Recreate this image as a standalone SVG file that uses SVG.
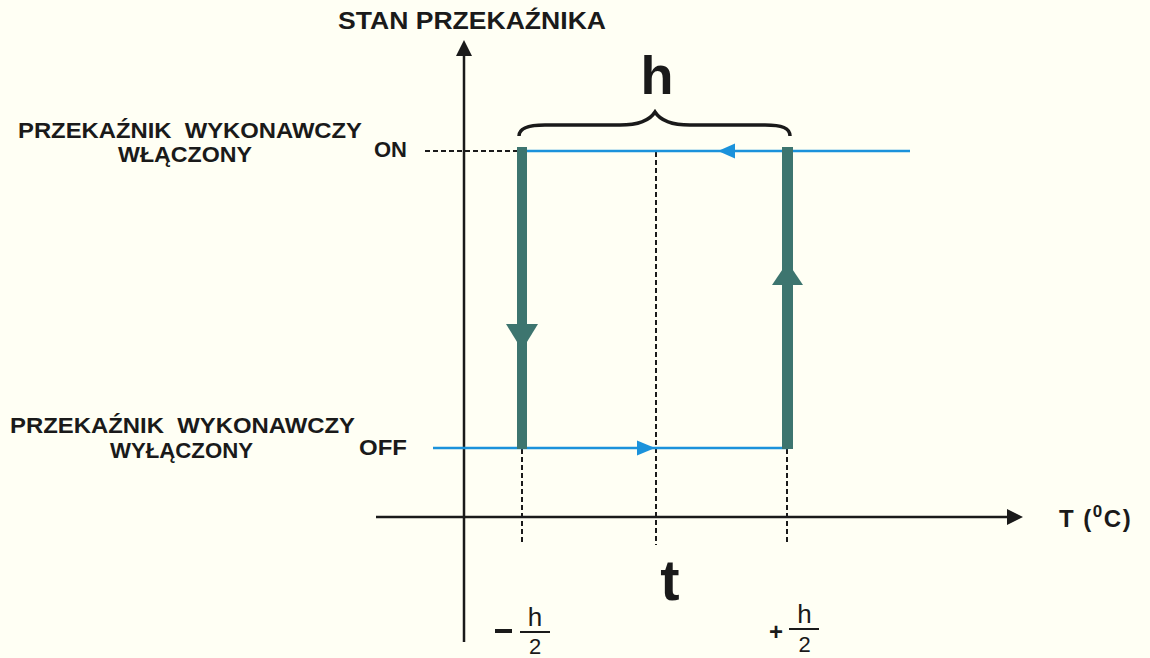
<svg xmlns="http://www.w3.org/2000/svg" width="1150" height="658" viewBox="0 0 1150 658">
<style>
.lbl{font-family:"Liberation Sans",Arial,sans-serif;font-weight:bold;fill:#1a1a1a}
.math{font-family:"Liberation Sans",Arial,sans-serif;fill:#1a1a1a}
.axis{stroke:#1a1a1a;stroke-width:2.5;fill:none}
.dash{stroke:#1a1a1a;stroke-width:2;stroke-dasharray:5 3;fill:none}
.blue{stroke:#1b92db;stroke-width:2.5;fill:none}
.bluehead{fill:#1b92db}
.teal{fill:#3d756f}
</style>
<rect width="1150" height="658" fill="#fffff4"/>
<g id="axes">
<line class="axis" x1="464" y1="642" x2="464" y2="55"/>
<polygon points="456,56 472,56 464,40" fill="#1a1a1a"/>
<line class="axis" x1="376" y1="517" x2="1008" y2="517"/>
<polygon points="1007,509 1023,517 1007,525" fill="#1a1a1a"/>
<text class="lbl" x="338" y="29" font-size="23" textLength="268" lengthAdjust="spacingAndGlyphs">STAN PRZEKAŹNIKA</text>
<text class="lbl" x="1059" y="527" font-size="24" letter-spacing="1.5">T (<tspan font-size="17" dy="-10">0</tspan><tspan dy="10">C)</tspan></text>
</g>
<g id="labels">
<text class="lbl" x="18" y="138" font-size="22" textLength="344" lengthAdjust="spacingAndGlyphs">PRZEKAŹNIK&#160; WYKONAWCZY</text>
<text class="lbl" x="118" y="162" font-size="22" textLength="134" lengthAdjust="spacingAndGlyphs">WŁĄCZONY</text>
<text class="lbl" x="374" y="157" font-size="22">ON</text>
<text class="lbl" x="10" y="433" font-size="22" textLength="345" lengthAdjust="spacingAndGlyphs">PRZEKAŹNIK&#160; WYKONAWCZY</text>
<text class="lbl" x="110" y="458" font-size="22" textLength="143" lengthAdjust="spacingAndGlyphs">WYŁĄCZONY</text>
<text class="lbl" x="359" y="455" font-size="22" textLength="48" lengthAdjust="spacingAndGlyphs">OFF</text>
</g>
<g id="connectors">
<line class="dash" x1="425" y1="151" x2="517" y2="151"/>
<line class="dash" x1="522" y1="449" x2="522" y2="542"/>
<line class="dash" x1="656" y1="152" x2="656" y2="545"/>
<line class="dash" x1="787" y1="449" x2="787" y2="542"/>
<line class="blue" x1="521" y1="151" x2="910" y2="151"/>
<polygon class="bluehead" points="735,143.5 718,151 735,158.5"/>
<line class="blue" x1="433" y1="448" x2="788" y2="448"/>
<polygon class="bluehead" points="637,440.5 655,448 637,455.5"/>
<rect class="teal" x="517" y="147" width="10" height="302"/>
<polygon class="teal" points="506,324 538,324 522,350"/>
<rect class="teal" x="782" y="147" width="11" height="302"/>
<polygon class="teal" points="772,285 803,285 787.5,262"/>
</g>
<g id="brace">
<path d="M519,136 C519,128 528,125 545,125 L620,125 C640,125 650,120 655,112 C660,120 670,125 690,125 L765,125 C782,125 790,128 790,136" stroke="#1a1a1a" stroke-width="3.5" fill="none"/>
<text class="math" x="657" y="94" font-size="54" font-weight="bold" text-anchor="middle">h</text>
</g>
<g id="setpoint">
<text class="math" x="670" y="600" font-size="58" font-weight="bold" text-anchor="middle">t</text>
</g>
<g id="minus-h2">
<rect x="495" y="629" width="17" height="4" fill="#1a1a1a"/>
<text class="math" x="535" y="626" font-size="26" text-anchor="middle">h</text>
<line x1="520" y1="632" x2="550" y2="632" stroke="#1a1a1a" stroke-width="2"/>
<text class="math" x="535" y="654" font-size="22" text-anchor="middle">2</text>
</g>
<g id="plus-h2">
<text class="math" x="776" y="640" font-size="24" font-weight="bold" text-anchor="middle">+</text>
<text class="math" x="804.5" y="623" font-size="26" text-anchor="middle">h</text>
<line x1="789" y1="629" x2="819" y2="629" stroke="#1a1a1a" stroke-width="2"/>
<text class="math" x="804.5" y="652" font-size="22" text-anchor="middle">2</text>
</g>
</svg>
